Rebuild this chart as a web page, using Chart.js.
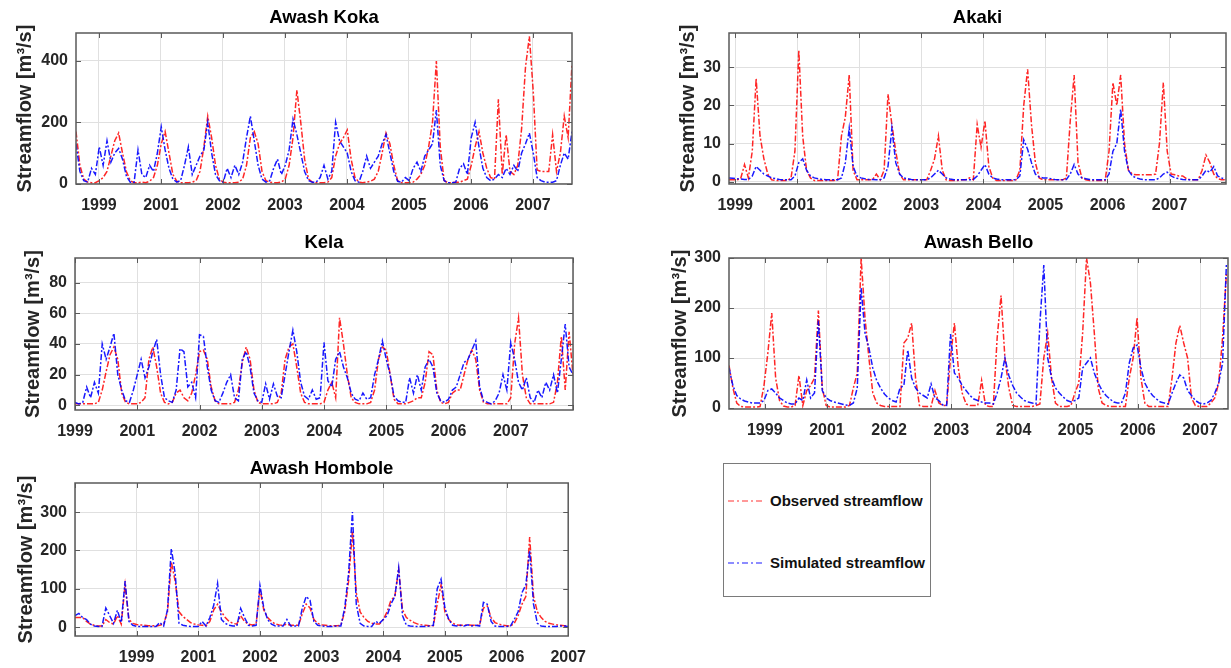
<!DOCTYPE html>
<html>
<head>
<meta charset="utf-8">
<title>Streamflow</title>
<script src="https://cdn.jsdelivr.net/npm/chart.js@4.4.1/dist/chart.umd.min.js"></script>
<style>
  html, body { margin: 0; padding: 0; background: #fff; overflow: hidden; }
  body { width: 1231px; height: 668px; position: relative; font-family: 'Liberation Sans', Arial, sans-serif; }
  .panel { position: absolute; }
  #legend { position: absolute; left: 723px; top: 463px; width: 206px; height: 132px; border: 1.5px solid #7a7a7a; background: #fff; }
  #legend .row { position: absolute; left: 4px; display: flex; align-items: center; font-weight: bold; font-size: 15px; color: #111; white-space: nowrap; }
  #legend svg { margin-right: 6px; }
</style>
</head>
<body>
<div id="legend">
  <div class="row" style="top:28px"><svg width="36" height="6"><line x1="0" y1="3" x2="36" y2="3" stroke="rgba(255,60,60,0.7)" stroke-width="1.5" stroke-dasharray="6,3,2,3"/></svg><span>Observed streamflow</span></div>
  <div class="row" style="top:90px"><svg width="36" height="6"><line x1="0" y1="3" x2="36" y2="3" stroke="rgba(0,0,255,0.9)" stroke-width="1.2" stroke-dasharray="6,3,2,3"/></svg><span>Simulated streamflow</span></div>
</div>
<script>
// samples are 1/16 of a tick interval apart, first sample at the left edge of each panel
const sampleStep = 1 / 16;

const yearLabels = ['1999', '2001', '2002', '2003', '2004', '2005', '2006', '2007'];
const yearTicks = [0, 1, 2, 3, 4, 5, 6, 7];
const kelaXTicks = [0, 1, 2, 3, 4, 5, 6, 7, 8];
const kelaXLabels = ['1999', '2001', '2002', '2003', '2004', '2005', '2006', '2007', ''];
const homboleXTicks = [-1, 0, 1, 2, 3, 4, 5, 6, 7];
const homboleXLabels = ['', '1999', '2001', '2002', '2003', '2004', '2005', '2006', '2007'];

const kokaYTicks = [0, 200, 400];
const akakiYTicks = [0, 10, 20, 30];
const kelaYTicks = [0, 20, 40, 60, 80];
const belloYTicks = [0, 100, 200, 300];
const homboleYTicks = [0, 100, 200, 300];

// Awash Koka
const kokaObs = [170,60,15,5,3,3,10,20,40,90,140,165,100,40,10,3,
  3,5,3,8,20,60,130,170,100,30,8,3,3,3,5,10,
  40,120,220,150,60,15,5,3,3,3,5,15,60,150,170,130,
  40,10,5,3,3,5,15,60,150,305,200,80,15,5,3,3,
  3,5,20,90,130,150,175,80,20,5,3,5,8,15,40,100,
  165,130,60,10,3,3,3,5,15,30,60,120,200,400,120,10,
  3,3,5,5,10,15,60,120,170,100,50,20,15,275,30,160,
  40,30,60,180,380,480,300,45,40,40,40,160,40,100,220,150,
  390];
const kokaSim = [130,40,10,5,50,30,120,60,140,70,100,115,80,25,5,5,
  110,30,20,60,40,100,185,110,50,15,5,10,60,120,30,60,
  90,110,200,100,30,10,5,50,20,60,30,70,150,220,140,60,
  15,5,10,50,80,30,60,110,210,160,100,40,10,5,5,20,
  60,15,40,200,140,120,100,40,10,5,40,90,50,70,90,130,
  160,100,40,8,5,20,10,50,70,40,90,110,130,240,60,10,
  3,3,5,50,65,30,150,200,120,50,20,10,15,30,20,50,
  30,60,40,100,130,165,100,20,10,5,5,5,10,60,100,80,
  170];

// Akaki
const akakiObs = [0.5,0.5,0.5,0.8,4.5,1,8,27,12,6,2,0.5,0.3,0.3,0.3,0.3,
  1,8,34.5,12,3,1,0.3,0.3,0.3,0.3,0.3,0.3,0.5,12,17,28,
  3,0.5,0.5,0.5,0.5,0.5,2,0.5,3,23,15,8,2,0.5,0.5,0.5,
  0.5,0.5,0.5,0.5,3,6,12,3,0.5,0.3,0.3,0.3,0.5,0.5,1,0.5,
  15,9,16,4,1,0.3,0.3,0.3,0.3,0.3,0.5,3,20,29.5,15,5,
  1,0.5,0.5,0.5,0.5,0.5,0.5,1,16,28,5,1,0.5,0.3,0.3,0.3,
  0.3,0.3,8,26,20,28,10,3,2,1.8,1.8,1.8,1.8,1.8,2,10,
  26,8,2,1.8,1.5,1.5,0.8,0.5,0.5,0.5,3,7,5,2,0.8,0.5,
  0.5];
const akakiSim = [1,0.9,0.8,0.7,0.6,0.6,1.5,4,3,2,1.5,1,0.8,0.6,0.5,0.5,
  0.5,1.5,5,6,3,1.5,1,0.8,0.6,0.5,0.5,0.5,0.5,1,5,14,
  4,1.5,1,0.8,0.6,0.6,0.5,0.5,1,4,14,5,2,1,0.8,0.6,
  0.5,0.5,0.5,0.5,1,2,3,2,1,0.7,0.5,0.5,0.5,0.5,0.5,0.6,
  1.5,3,4.5,2,1,0.7,0.5,0.5,0.5,0.5,0.5,1.5,11,8.5,5,2,
  1.2,1,1,0.8,0.6,0.5,0.5,0.6,2,4.5,2,1,0.8,0.6,0.5,0.5,
  0.5,0.5,2,8,10,19,8,3,1.5,1,0.7,0.5,0.5,0.5,0.5,1,
  2,2.5,1.5,1,0.8,0.6,0.5,0.5,0.5,0.5,1.5,3,2.5,4,1.5,1,
  0.6];

// Kela
const kelaObs = [1,1,1,1,1,1,2,10,22,33,38,30,8,2,1,1,
  1,2,5,30,38,25,8,2,1,2,8,10,5,3,8,20,
  35,36,30,12,3,1,1,1,1,2,10,28,38,30,10,2,
  1,1,1,1,2,8,30,38,40,25,8,2,1,1,1,1,
  2,10,15,5,57,40,20,5,2,1,1,1,2,10,30,38,
  36,20,4,1,1,1,2,3,5,5,15,35,33,10,2,1,
  2,8,10,10,20,30,36,30,10,2,1,1,1,1,1,1,
  5,40,57,20,5,1,1,1,1,1,1,2,15,45,10,48,
  20];
const kelaSim = [2,1,2,12,5,15,8,40,30,38,47,20,10,3,2,10,
  20,30,18,25,35,43,20,5,3,2,10,37,35,12,15,5,
  46,45,25,10,3,2,8,15,20,5,3,30,35,25,8,3,
  2,14,4,14,6,5,20,35,49,35,15,6,4,10,4,5,
  41,16,12,30,35,25,18,8,4,3,8,4,5,20,30,42,
  30,20,6,3,2,2,18,8,20,10,25,30,25,8,3,2,
  4,10,12,20,28,30,36,42,12,3,2,1,3,8,20,10,
  41,30,15,10,18,5,2,10,5,15,10,20,8,30,53,25,
  20];

// Awash Bello
const belloObs = [85,40,10,3,2,2,2,2,3,45,110,190,60,15,4,2,
  2,5,65,5,35,45,60,195,40,5,2,2,2,2,2,5,
  40,70,300,180,100,30,10,5,3,3,3,3,3,130,140,170,
  60,5,3,3,3,35,10,5,5,100,170,80,30,8,5,5,
  5,55,5,3,3,140,225,100,40,5,3,3,3,3,3,5,
  8,100,150,60,10,3,3,3,5,30,50,150,300,250,150,40,
  10,5,3,3,3,3,3,60,100,180,60,10,3,3,3,3,
  3,3,60,130,165,130,100,20,5,3,3,3,10,20,50,140,
  270];
const belloSim = [80,45,25,18,14,12,10,10,10,15,35,38,30,20,15,10,
  8,8,20,15,56,20,30,175,35,20,15,12,10,8,6,5,
  10,40,240,150,120,80,55,40,28,20,15,12,40,45,116,60,
  40,30,25,20,48,20,15,6,5,148,70,60,45,35,25,18,
  15,12,10,10,8,30,60,100,65,45,30,22,15,12,10,8,
  170,286,100,60,40,30,22,15,12,15,20,80,90,100,70,50,
  35,25,18,12,10,10,30,90,120,126,80,50,35,25,18,12,
  10,8,30,50,66,60,35,25,15,10,8,10,15,30,50,90,
  290];

// Awash Hombole
const homboleObs = [25,25,25,15,8,5,3,3,20,12,8,30,8,110,20,10,
  7,6,5,4,4,3,5,8,40,170,120,40,28,20,12,8,
  6,5,4,15,45,60,40,25,15,10,8,30,15,8,6,8,
  100,45,25,15,8,6,5,8,5,5,5,35,60,50,20,10,
  6,5,4,4,4,5,40,120,250,90,40,25,15,10,8,8,
  20,40,70,80,150,45,25,18,12,8,6,5,4,4,60,110,
  40,20,10,6,5,5,6,5,5,5,50,55,25,12,8,5,
  4,3,10,30,60,80,235,80,40,25,15,10,8,6,5,4,
  3];
const homboleSim = [30,36,25,20,8,3,2,2,50,30,10,44,12,120,15,5,
  2,2,2,2,2,2,12,3,45,205,140,10,5,3,2,2,
  2,15,3,25,57,114,20,10,5,3,3,49,25,5,3,5,
  109,50,20,8,3,3,3,20,3,3,3,50,80,70,15,5,
  3,2,2,2,3,3,50,140,300,60,10,3,2,2,15,10,
  20,30,60,80,155,30,5,3,2,2,2,2,3,5,100,125,
  50,20,5,3,5,3,6,3,5,3,65,60,15,3,2,2,
  2,3,20,40,90,110,200,60,10,3,2,2,2,2,3,3,
  2];

// pick the narrow face for tick labels when it is installed
function hasFont(name) {
  const c = document.createElement('canvas').getContext('2d');
  c.font = 'bold 20px monospace';
  const a = c.measureText('2001 Streamflow').width;
  c.font = `bold 20px '${name}', monospace`;
  return c.measureText('2001 Streamflow').width !== a;
}
const narrow = hasFont('Liberation Sans Narrow');
const tickFont = narrow
  ? { family: "'Liberation Sans Narrow', 'Liberation Sans', Arial", size: 19, weight: 'bold' }
  : { family: "'Liberation Sans', Arial", size: 16, weight: 'bold' };

Chart.defaults.font.family = "'Liberation Sans', Arial, sans-serif";

const obsColor = 'rgba(255,0,0,0.85)';
const simColor = 'rgba(0,0,255,0.9)';
const gridColor = '#e0e0e0';
const textColor = '#262626';

const panels = [
  { title: 'Awash Koka', obs: kokaObs, sim: kokaSim, start: -0.37, xMin: -0.37, xMax: 7.63,
    xTicks: yearTicks, xLabels: yearLabels, yMin: -1, yMax: 491, yTicks: kokaYTicks,
    box: { l: 76, t: 33, r: 572, b: 184 }, yTitlePad: 14, titleTop: 5, right: 25 },
  { title: 'Akaki', obs: akakiObs, sim: akakiSim, start: -0.1, xMin: -0.1, xMax: 7.91,
    xTicks: yearTicks, xLabels: yearLabels, yMin: -0.6, yMax: 39, yTicks: akakiYTicks,
    box: { l: 729, t: 33, r: 1226, b: 184 }, yTitlePad: 24, titleTop: 5, right: 5 },
  { title: 'Kela', obs: kelaObs, sim: kelaSim, start: 0, xMin: 0, xMax: 8,
    xTicks: kelaXTicks, xLabels: kelaXLabels, yMin: -3, yMax: 96, yTicks: kelaYTicks,
    box: { l: 75, t: 258, r: 573, b: 410 }, yTitlePad: 23, titleTop: 5, right: 25 },
  { title: 'Awash Bello', obs: belloObs, sim: belloSim, start: -0.575, xMin: -0.575, xMax: 7.45,
    xTicks: yearTicks, xLabels: yearLabels, yMin: -2, yMax: 300, yTicks: belloYTicks,
    box: { l: 729, t: 258, r: 1228, b: 409 }, yTitlePad: 16, titleTop: 5, right: 3 },
  { title: 'Awash Hombole', obs: homboleObs, sim: homboleSim, start: -1, xMin: -1, xMax: 7,
    xTicks: homboleXTicks, xLabels: homboleXLabels, yMin: -23, yMax: 376, yTicks: homboleYTicks,
    box: { l: 75, t: 483, r: 573, b: 636 }, yTitlePad: 16, titleTop: 6, right: 25 }
];

// MATLAB-like frame with inward ticks
const framePlugin = {
  id: 'frame',
  afterDraw(chart) {
    const { ctx, chartArea: a, scales } = chart;
    ctx.save();
    ctx.strokeStyle = '#5a5a5a';
    ctx.lineWidth = 1;
    ctx.beginPath();
    scales.x.ticks.forEach(t => {
      const x = Math.round(scales.x.getPixelForValue(t.value)) + 0.5;
      ctx.moveTo(x, a.bottom); ctx.lineTo(x, a.bottom - 5);
      ctx.moveTo(x, a.top); ctx.lineTo(x, a.top + 5);
    });
    scales.y.ticks.forEach(t => {
      const y = Math.round(scales.y.getPixelForValue(t.value)) + 0.5;
      ctx.moveTo(a.left, y); ctx.lineTo(a.left + 5, y);
      ctx.moveTo(a.right, y); ctx.lineTo(a.right - 5, y);
    });
    ctx.stroke();
    ctx.lineWidth = 1.5;
    ctx.strokeRect(a.left, a.top, a.right - a.left, a.bottom - a.top);
    ctx.restore();
  }
};

const yAxisW = 75;
const titleH = 30;
const xAxisH = 36;

panels.forEach(p => {
  const wrap = document.createElement('div');
  wrap.className = 'panel';
  wrap.style.left = (p.box.l - yAxisW) + 'px';
  wrap.style.top = (p.box.t - titleH) + 'px';
  wrap.style.width = (p.box.r - p.box.l + yAxisW + p.right) + 'px';
  wrap.style.height = (p.box.b - p.box.t + titleH + xAxisH) + 'px';
  const canvas = document.createElement('canvas');
  wrap.appendChild(canvas);
  document.body.appendChild(wrap);

  const toPoints = arr => arr.map((v, i) => ({ x: p.start + i * sampleStep, y: v }));

  new Chart(canvas, {
    type: 'line',
    data: {
      datasets: [
        { label: 'Observed streamflow', data: toPoints(p.obs), borderColor: obsColor, borderWidth: 1.5,
          borderDash: [6, 2, 2, 2], pointRadius: 0, tension: 0, order: 2 },
        { label: 'Simulated streamflow', data: toPoints(p.sim), borderColor: simColor, borderWidth: 1.5,
          borderDash: [6, 2, 2, 2], pointRadius: 0, tension: 0, order: 1 }
      ]
    },
    options: {
      responsive: true,
      maintainAspectRatio: false,
      animation: false,
      events: [],
      layout: { autoPadding: false, padding: { left: 0, right: p.right, top: 0, bottom: 0 } },
      plugins: {
        legend: { display: false },
        tooltip: { enabled: false },
        title: {
          display: true, text: p.title, fullSize: false, color: '#000',
          font: { size: 18.5, weight: 'bold', lineHeight: 20 / 18.5 },
          padding: { top: p.titleTop, bottom: titleH - 20 - p.titleTop }
        }
      },
      scales: {
        x: {
          type: 'linear', min: p.xMin, max: p.xMax,
          afterBuildTicks: s => { s.ticks = p.xTicks.map(v => ({ value: v })); },
          afterFit: s => { s.height = xAxisH; },
          ticks: { autoSkip: false, maxRotation: 0, padding: 12, color: textColor, font: tickFont,
            callback: (v, i) => p.xLabels[i] || '' },
          grid: { color: gridColor, drawTicks: false },
          border: { display: false }
        },
        y: {
          min: p.yMin, max: p.yMax,
          afterBuildTicks: s => { s.ticks = p.yTicks.map(v => ({ value: v })); },
          afterFit: s => { s.width = yAxisW; },
          ticks: { padding: 8, color: textColor, font: tickFont, callback: v => String(v) },
          grid: { color: gridColor, drawTicks: false },
          border: { display: false },
          title: { display: true, text: 'Streamflow [m³/s]', color: textColor,
            font: { size: 20, weight: 'bold', lineHeight: 1 }, padding: { top: p.yTitlePad, bottom: 0 } }
        }
      }
    },
    plugins: [framePlugin]
  });
});
</script>
</body>
</html>
